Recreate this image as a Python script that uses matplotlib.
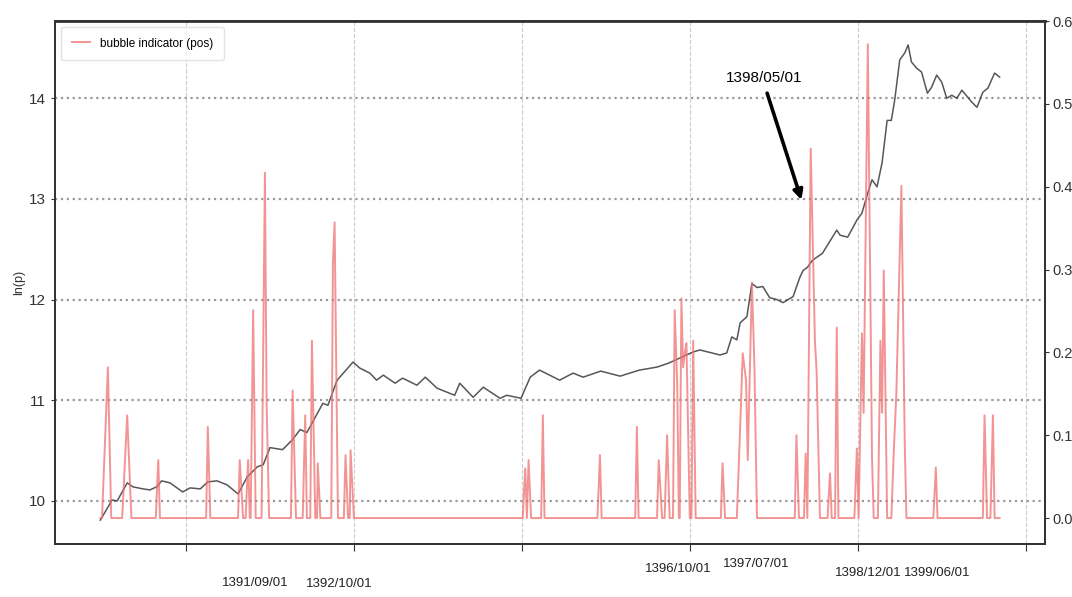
import numpy as np
import matplotlib
matplotlib.use("Agg")
import matplotlib.pyplot as plt

plt.rcParams['font.family'] = ['Liberation Sans', 'DejaVu Sans']

# ln(p) series, x in decimal years
ln_year = [2010.98, 2011.12, 2011.18, 2011.30, 2011.37, 2011.49, 2011.57, 2011.65, 2011.71, 2011.81,
           2011.96, 2012.05, 2012.17, 2012.26, 2012.37, 2012.49, 2012.62, 2012.73, 2012.85, 2012.92,
           2013.00, 2013.15, 2013.27, 2013.36, 2013.44, 2013.63, 2013.69, 2013.80, 2013.99, 2014.07,
           2014.19, 2014.27, 2014.35, 2014.49, 2014.58, 2014.75, 2014.85, 2014.99, 2015.14, 2015.20,
           2015.26, 2015.42, 2015.54, 2015.74, 2015.82, 2015.99, 2016.10, 2016.21, 2016.45, 2016.61,
           2016.73, 2016.94, 2017.17, 2017.40, 2017.61, 2017.75, 2018.04, 2018.12, 2018.36, 2018.44,
           2018.50, 2018.56, 2018.60, 2018.68, 2018.74, 2018.80, 2018.87, 2018.95, 2019.04, 2019.11,
           2019.23, 2019.31, 2019.35, 2019.40, 2019.46, 2019.58, 2019.75, 2019.79, 2019.88, 2019.99,
           2020.05, 2020.12, 2020.17, 2020.23, 2020.29, 2020.35, 2020.40, 2020.44, 2020.50, 2020.56,
           2020.60, 2020.64, 2020.70, 2020.76, 2020.83, 2020.88, 2020.94, 2021.00, 2021.06, 2021.12,
           2021.18, 2021.24, 2021.36, 2021.42, 2021.49, 2021.55, 2021.63, 2021.69]
ln_p = [9.81, 10.01, 10.00, 10.18, 10.14, 10.12, 10.11, 10.14, 10.20, 10.18,
        10.09, 10.13, 10.12, 10.19, 10.20, 10.16, 10.07, 10.24, 10.34, 10.36,
        10.53, 10.51, 10.61, 10.71, 10.68, 10.97, 10.95, 11.20, 11.38, 11.32,
        11.27, 11.20, 11.25, 11.17, 11.22, 11.15, 11.23, 11.12, 11.07, 11.05,
        11.17, 11.03, 11.13, 11.02, 11.05, 11.02, 11.23, 11.30, 11.20, 11.27,
        11.23, 11.29, 11.24, 11.30, 11.33, 11.37, 11.48, 11.50, 11.45, 11.47,
        11.63, 11.60, 11.77, 11.83, 12.16, 12.12, 12.13, 12.02, 12.00, 11.97,
        12.03, 12.22, 12.29, 12.32, 12.39, 12.46, 12.69, 12.64, 12.62, 12.79,
        12.86, 13.06, 13.19, 13.12, 13.36, 13.78, 13.78, 13.98, 14.38, 14.45,
        14.53, 14.36, 14.30, 14.26, 14.05, 14.11, 14.23, 14.16, 14.00, 14.03,
        14.00, 14.08, 13.96, 13.91, 14.06, 14.10, 14.25, 14.21]

# bubble indicator (pos)
bub_year = [2010.98, 2011.00, 2011.07, 2011.11, 2011.24, 2011.30, 2011.35, 2011.64, 2011.67, 2011.69,
            2012.24, 2012.26, 2012.29, 2012.62, 2012.64, 2012.68, 2012.71, 2012.74, 2012.76, 2012.77,
            2012.80, 2012.83, 2012.90, 2012.94, 2012.96, 2012.99, 2013.25, 2013.27, 2013.31, 2013.39,
            2013.42, 2013.44, 2013.48, 2013.50, 2013.54, 2013.56, 2013.57, 2013.60, 2013.73, 2013.75,
            2013.77, 2013.81, 2013.88, 2013.90, 2013.93, 2013.95, 2013.96, 2014.00,
            2016.01, 2016.04, 2016.06, 2016.08, 2016.11, 2016.23, 2016.25, 2016.27, 2016.90, 2016.93,
            2016.95, 2017.35, 2017.37, 2017.39, 2017.61, 2017.63, 2017.67, 2017.70, 2017.73, 2017.76,
            2017.80, 2017.82, 2017.85, 2017.87, 2017.88, 2017.90, 2017.92, 2017.94, 2017.96, 2018.00,
            2018.02, 2018.04, 2018.07, 2018.37, 2018.39, 2018.42, 2018.56, 2018.60, 2018.63, 2018.67,
            2018.69, 2018.74, 2018.77, 2018.80, 2019.25, 2019.27, 2019.30, 2019.36, 2019.38, 2019.40,
            2019.44, 2019.49, 2019.51, 2019.55, 2019.64, 2019.67, 2019.69, 2019.73, 2019.75, 2019.77,
            2019.96, 2019.99, 2020.01, 2020.05, 2020.07, 2020.12, 2020.17, 2020.19, 2020.24, 2020.27,
            2020.29, 2020.31, 2020.35, 2020.40, 2020.43, 2020.46, 2020.52, 2020.56, 2020.58, 2020.90,
            2020.93, 2020.95, 2021.49, 2021.51, 2021.54, 2021.58, 2021.61, 2021.63, 2021.69]
bub_val = [0, 0, 0.182, 0, 0, 0.124, 0, 0, 0.070, 0,
           0, 0.110, 0, 0, 0.070, 0, 0, 0.070, 0, 0,
           0.251, 0, 0, 0.417, 0.140, 0, 0, 0.154, 0, 0,
           0.124, 0, 0, 0.214, 0, 0, 0.066, 0, 0, 0.308,
           0.357, 0, 0, 0.076, 0, 0, 0.082, 0,
           0, 0.060, 0, 0.070, 0, 0, 0.124, 0, 0, 0.076,
           0, 0, 0.110, 0, 0, 0.070, 0, 0, 0.100, 0,
           0, 0.251, 0.163, 0, 0, 0.265, 0.182, 0.199, 0.211, 0,
           0, 0.214, 0, 0, 0.066, 0, 0, 0.110, 0.199, 0.166,
           0.070, 0.284, 0.182, 0, 0, 0.100, 0, 0, 0.078, 0,
           0.446, 0.214, 0.178, 0, 0, 0.054, 0, 0, 0.230, 0,
           0, 0.084, 0, 0.223, 0.127, 0.572, 0.073, 0, 0, 0.214,
           0.127, 0.299, 0, 0, 0.082, 0.151, 0.401, 0.090, 0, 0,
           0.061, 0, 0, 0.124, 0, 0, 0.124, 0, 0]

# date labels written under the axis
date_labels = ['1391/09/01', '1392/10/01', '1396/10/01', '1397/07/01', '1398/12/01', '1399/06/01']
date_x = [2012.82, 2013.83, 2017.86, 2018.79, 2020.12, 2020.95]
date_y = [-0.063, -0.065, -0.036, -0.027, -0.044, -0.044]

fig = plt.figure(figsize=(10.72, 5.97), dpi=100)
ax = fig.add_axes([0.0513, 0.0888, 0.9235, 0.876])
ax2 = ax.twinx()

ax.plot(ln_year, ln_p, color='#3a3a3a', lw=1.1, alpha=0.85)
ax2.plot(bub_year, bub_val, color='#f07070', lw=1.4, alpha=0.75, label='bubble indicator (pos)')

ax.set_xlim(2010.44, 2022.23)
ax.set_ylim(9.573, 14.767)
ax2.set_ylim(-0.0313, 0.5988)
ax.set_xticks([2012, 2014, 2016, 2018, 2020, 2022])
ax.set_xticklabels([])
ax.set_yticks([10, 11, 12, 13, 14])
ax2.set_yticks([0.0, 0.1, 0.2, 0.3, 0.4, 0.5, 0.6])
ax2.set_yticklabels(['0.0', '0.1', '0.2', '0.3', '0.4', '0.5', '0.6'])
ax.tick_params(axis='y', labelsize=11, length=3, colors='#333')
ax.tick_params(axis='x', length=5, colors='#333')
ax2.tick_params(axis='y', labelsize=10.5, length=3, pad=2, colors='#333')

ax.grid(axis='y', linestyle=':', color='#9a9a9a', lw=1.6)
ax.grid(axis='x', linestyle='--', color='#cccccc', lw=0.8)
ax.set_ylabel('ln(p)', fontsize=9, color='#333')
ax.yaxis.set_label_coords(-0.03, 0.5)

for a in (ax, ax2):
    for s in a.spines.values():
        s.set_color('#333')
        s.set_linewidth(1.3)
ax2.spines['top'].set_linewidth(2)

ax2.legend(loc='upper left', fontsize=8.5, frameon=True, edgecolor='#dddddd',
           handlelength=1.6, borderpad=0.9)

ax.annotate('1398/05/01', xy=(2019.33, 12.99), xytext=(2018.89, 14.20),
            ha='center', va='center', fontsize=11,
            arrowprops=dict(arrowstyle='-|>', color='black', lw=2.6, mutation_scale=14,
                            relpos=(0.5, 0.0), shrinkA=4, shrinkB=0))

for lab, x, y in zip(date_labels, date_x, date_y):
    ax.text(x, y, lab, transform=ax.get_xaxis_transform(), ha='center', va='top',
            fontsize=9.5, color='#222')

fig.savefig('out.png', dpi=100)
